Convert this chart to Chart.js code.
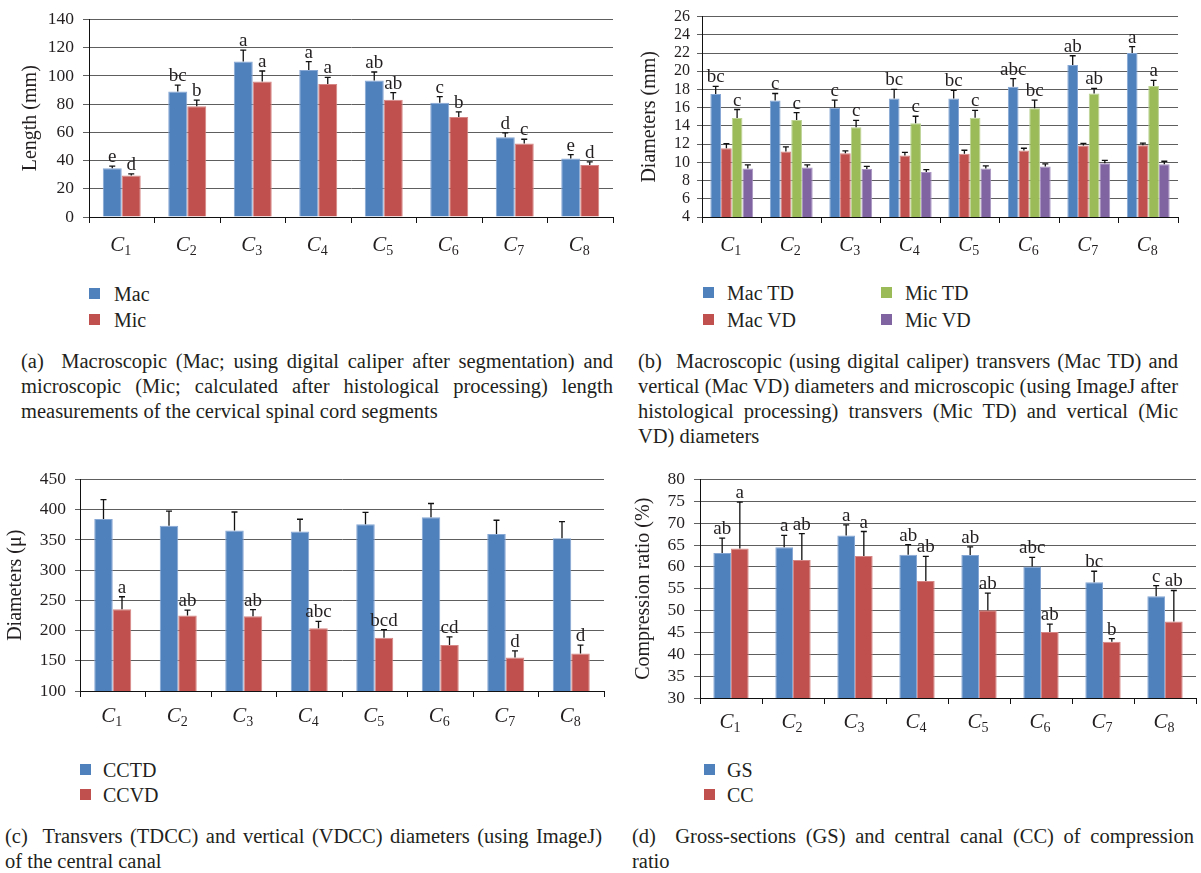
<!DOCTYPE html>
<html>
<head>
<meta charset="utf-8">
<script src="https://cdn.jsdelivr.net/npm/chart.js@4.4.1/dist/chart.umd.min.js"></script>
<style>
  body { margin: 0; background: #fff; width: 1201px; height: 873px; position: relative; overflow: hidden;
         font-family: 'Liberation Serif', 'Times New Roman', serif; color: #231f20; }
  canvas { position: absolute; }
  .item { position: absolute; white-space: nowrap; font-size: 20px; line-height: 24px; height: 24px; }
  .item i { position: absolute; width: 11px; height: 11px; top: 6px; }
  .cap { position: absolute; font-size: 20.5px; line-height: 25px; }
  .cap div { text-align: justify; text-align-last: justify; white-space: nowrap; }
  .cap div.last { text-align-last: left; }
</style>
</head>
<body>
<canvas id="chartA" width="620" height="265" style="left:0;top:0"></canvas>
<canvas id="chartB" width="581" height="265" style="left:620px;top:0"></canvas>
<canvas id="chartC" width="620" height="275" style="left:0;top:460px"></canvas>
<canvas id="chartD" width="581" height="275" style="left:620px;top:460px"></canvas>

<div class="cap" style="left:21px;top:349px;width:592px">
  <div>(a)&nbsp; Macroscopic (Mac; using digital caliper after segmentation) and</div>
  <div>microscopic (Mic; calculated after histological processing) length</div>
  <div class="last">measurements of the cervical spinal cord segments</div>
</div>
<div class="cap" style="left:638px;top:349px;width:540px">
  <div>(b)&nbsp; Macroscopic (using digital caliper) transvers (Mac TD) and</div>
  <div>vertical (Mac VD) diameters and microscopic (using ImageJ after</div>
  <div>histological processing) transvers (Mic TD) and vertical (Mic</div>
  <div class="last">VD) diameters</div>
</div>
<div class="cap" style="left:5px;top:824px;width:597px">
  <div>(c)&nbsp; Transvers (TDCC) and vertical (VDCC) diameters (using ImageJ)</div>
  <div class="last">of the central canal</div>
</div>
<div class="cap" style="left:632px;top:824px;width:562px">
  <div>(d)&nbsp; Gross-sections (GS) and central canal (CC) of compression</div>
  <div class="last">ratio</div>
</div>

<script>
// cervical segments C1..C8 (digit is drawn as subscript)
const segments = ['1', '2', '3', '4', '5', '6', '7', '8'];

// (a) length, mm
const macLength   = [34.5, 88.9, 110.2, 104.2, 96.8, 81.0, 56.5, 41.4];
const macLengthSD = [1.6, 4.6, 8.1, 6.0, 6.0, 4.4, 3.2, 2.8];
const macLengthGr = ['e', 'bc', 'a', 'a', 'ab', 'c', 'd', 'e'];
const micLength   = [29.4, 78.5, 96.1, 94.2, 83.1, 70.8, 52.1, 36.8];
const micLengthSD = [1.2, 4.4, 7.4, 4.8, 5.1, 3.7, 3.0, 2.3];
const micLengthGr = ['d', 'b', 'a', 'a', 'ab', 'b', 'c', 'd'];

// (b) diameters, mm
const macTD   = [17.5, 16.8, 16.0, 17.0, 17.0, 18.3, 20.7, 22.0];
const macTDSD = [0.85, 0.76, 0.84, 1.0, 0.9, 0.9, 1.0, 0.7];
const macTDGr = ['bc', 'c', 'c', 'bc', 'bc', 'abc', 'ab', 'a'];
const macVD   = [11.55, 11.2, 11.0, 10.76, 10.94, 11.3, 11.84, 11.87];
const macVDSD = [0.5, 0.5, 0.26, 0.34, 0.39, 0.25, 0.25, 0.23];
const micTD   = [14.88, 14.66, 13.84, 14.3, 14.9, 15.95, 17.56, 18.38];
const micTDSD = [0.92, 0.79, 0.76, 0.76, 0.8, 0.89, 0.57, 0.62];
const micTDGr = ['c', 'c', 'c', 'c', 'c', 'bc', 'ab', 'a'];
const micVD   = [9.33, 9.44, 9.26, 8.94, 9.33, 9.55, 9.9, 9.8];
const micVDSD = [0.39, 0.28, 0.29, 0.25, 0.29, 0.28, 0.32, 0.32];

// (c) central canal diameters, micron
const cctd   = [384.8, 373.4, 365.8, 364.0, 376.0, 387.5, 359.8, 352.7];
const cctdSD = [32.0, 24.4, 30.4, 20.2, 19.7, 22.8, 22.8, 27.7];
const ccvd   = [235.3, 225.0, 223.9, 203.8, 188.0, 176.0, 155.4, 162.0];
const ccvdSD = [20.7, 8.7, 10.9, 11.4, 13.6, 13.7, 10.9, 14.0];
const ccvdGr = ['a', 'ab', 'ab', 'abc', 'bcd', 'cd', 'd', 'd'];

// (d) compression ratio, %
const gs   = [63.2, 64.5, 67.2, 62.8, 62.7, 60.1, 56.5, 53.3];
const gsSD = [3.4, 2.7, 2.4, 2.3, 1.9, 2.1, 2.5, 2.4];
const gsGr = ['ab', 'a', 'a', 'ab', 'ab', 'abc', 'bc', 'c'];
const cc   = [64.2, 61.6, 62.5, 56.8, 50.1, 45.1, 42.9, 47.5];
const ccSD = [10.6, 6.0, 5.6, 5.6, 3.9, 1.8, 0.7, 7.1];
const ccGr = ['a', 'ab', 'a', 'ab', 'ab', 'ab', 'b', 'ab'];

const BLUE = '#4f81bd', RED = '#c0504d', GREEN = '#9bbb59', PURPLE = '#8064a2';
const EDGE = { [BLUE]: '#86a6d3', [RED]: '#d68785', [GREEN]: '#bcd394', [PURPLE]: '#a994c2' };
const FONT = "'Liberation Serif', 'Times New Roman', serif";
const INK = '#231f20';

Chart.defaults.font.family = FONT;
Chart.defaults.color = INK;

function ds(label, data, sd, letters, color) {
    return { label, data, sd, letters, backgroundColor: color, borderColor: EDGE[color], borderWidth: 1 };
}

// upward error bars + group letters above them
const errorBars = {
    id: 'errorBars',
    afterDatasetsDraw(chart) {
        const { ctx, scales: { y } } = chart;
        ctx.save();
        chart.data.datasets.forEach((set, di) => {
            chart.getDatasetMeta(di).data.forEach((bar, i) => {
                const top = y.getPixelForValue(set.data[i] + set.sd[i]);
                ctx.strokeStyle = '#111';
                ctx.lineWidth = 1.3;
                ctx.beginPath();
                ctx.moveTo(bar.x, bar.y);
                ctx.lineTo(bar.x, top);
                ctx.moveTo(bar.x - 3, top);
                ctx.lineTo(bar.x + 3, top);
                ctx.stroke();
                if (set.letters) {
                    ctx.fillStyle = INK;
                    ctx.font = '19px ' + FONT;
                    ctx.textAlign = 'center';
                    ctx.textBaseline = 'alphabetic';
                    ctx.fillText(set.letters[i], bar.x, top - 4);
                }
            });
        });
        ctx.restore();
    }
};

// italic C with subscript segment number
const segmentLabels = {
    id: 'segmentLabels',
    afterDraw(chart, args, opts) {
        const { ctx, chartArea, scales: { x } } = chart;
        ctx.save();
        ctx.fillStyle = INK;
        ctx.textAlign = 'left';
        ctx.textBaseline = 'alphabetic';
        segments.forEach((s, i) => {
            const cx = x.getPixelForValue(i);
            ctx.font = 'italic 21px ' + FONT;
            const w1 = ctx.measureText('C').width;
            ctx.font = '14px ' + FONT;
            const w2 = ctx.measureText(s).width;
            const left = cx - (w1 + w2) / 2 - 1;
            ctx.font = 'italic 21px ' + FONT;
            ctx.fillText('C', left, chartArea.bottom + opts.base);
            ctx.font = '14px ' + FONT;
            ctx.fillText(s, left + w1, chartArea.bottom + opts.base + 4);
        });
        ctx.restore();
    }
};

function barChart(id, p) {
    return new Chart(document.getElementById(id), {
        type: 'bar',
        data: { labels: segments.map(s => 'C' + s), datasets: p.datasets },
        options: {
            responsive: false,
            animation: false,
            layout: { padding: { top: p.pad[0], right: p.pad[1], bottom: 0, left: 0 } },
            datasets: { bar: { categoryPercentage: p.cat, barPercentage: 1 } },
            plugins: { legend: { display: false }, tooltip: { enabled: false }, segmentLabels: { base: p.base } },
            scales: {
                x: {
                    grid: { offset: true, drawOnChartArea: false, drawTicks: true, tickLength: 6, color: '#111' },
                    border: { color: '#111', width: 1 },
                    ticks: { display: false },
                    afterFit: s => { s.height = p.xHeight; }
                },
                y: {
                    min: p.min, max: p.max,
                    grid: { color: '#5e5e5e', tickLength: p.tickLen, lineWidth: 1 },
                    border: { color: '#111', width: 1 },
                    ticks: { stepSize: p.step, autoSkip: false, padding: p.tickPad, font: { size: p.tickSize } },
                    title: { display: true, text: p.title, font: { size: 20 }, padding: { top: p.titlePad, bottom: 0 } },
                    afterFit: s => { s.width = p.yWidth; }
                }
            }
        },
        plugins: [errorBars, segmentLabels]
    });
}

function legend(chart, pos) {
    chart.data.datasets.forEach((set, i) => {
        const el = document.createElement('div');
        el.className = 'item';
        el.style.left = pos[i][0] + 'px';
        el.style.top = (pos[i][1] - 12) + 'px';
        el.innerHTML = '<i style="background:' + set.backgroundColor + '"></i><span style="margin-left:' + pos[i][2] + 'px">' + set.label + '</span>';
        document.body.appendChild(el);
    });
}

const chartA = barChart('chartA', {
    datasets: [ds('Mac', macLength, macLengthSD, macLengthGr, BLUE), ds('Mic', micLength, micLengthSD, micLengthGr, RED)],
    min: 0, max: 140, step: 20, title: 'Length (mm)', tickSize: 17.5, tickLen: 6, tickPad: 9,
    yWidth: 89, xHeight: 48, pad: [15, 7], cat: 0.58, titlePad: 19, base: 34
});
const chartB = barChart('chartB', {
    datasets: [ds('Mac TD', macTD, macTDSD, macTDGr, BLUE), ds('Mac VD', macVD, macVDSD, null, RED),
               ds('Mic TD', micTD, micTDSD, micTDGr, GREEN), ds('Mic VD', micVD, micVDSD, null, PURPLE)],
    min: 4, max: 26, step: 2, title: 'Diameters (mm)', tickSize: 16, tickLen: 5, tickPad: 7,
    yWidth: 82, xHeight: 48, pad: [12, 23], cat: 0.72, titlePad: 18, base: 34
});
const chartC = barChart('chartC', {
    datasets: [ds('CCTD', cctd, cctdSD, null, BLUE), ds('CCVD', ccvd, ccvdSD, ccvdGr, RED)],
    min: 100, max: 450, step: 50, title: 'Diameters (\u03bc)', tickSize: 17.5, tickLen: 5, tickPad: 9,
    yWidth: 80, xHeight: 44, pad: [18, 16], cat: 0.565, titlePad: 4, base: 31
});
const chartD = barChart('chartD', {
    datasets: [ds('GS', gs, gsSD, gsGr, BLUE), ds('CC', cc, ccSD, ccGr, RED)],
    min: 30, max: 80, step: 5, title: 'Compression ratio (%)', tickSize: 17.5, tickLen: 6, tickPad: 9,
    yWidth: 80, xHeight: 37, pad: [16, 5], cat: 0.57, titlePad: 12, base: 30
});

legend(chartA, [[89, 294, 25], [89, 320, 25]]);
legend(chartB, [[703, 293, 24], [703, 320, 24], [881, 293, 24], [881, 320, 24]]);
legend(chartC, [[80, 770, 23], [80, 795, 23]]);
legend(chartD, [[704, 770, 23], [704, 795, 23]]);
</script>
</body>
</html>
